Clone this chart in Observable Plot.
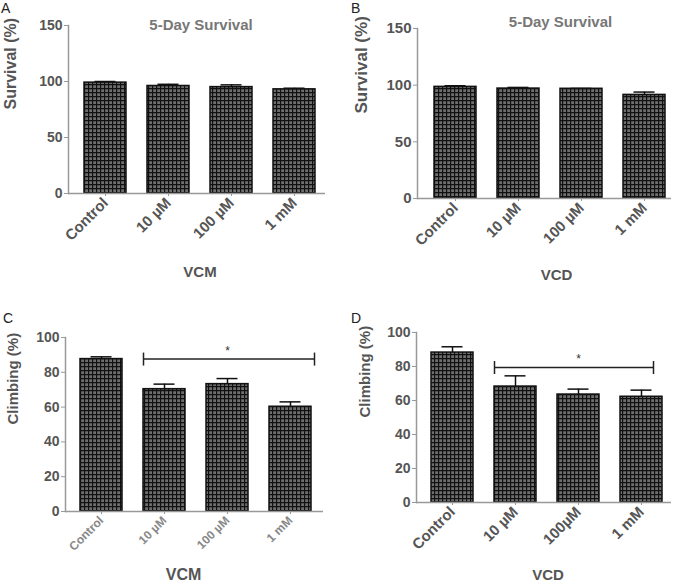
<!DOCTYPE html>
<html><head><meta charset="utf-8">
<script src="https://cdn.jsdelivr.net/npm/d3@7"></script>
<script src="https://cdn.jsdelivr.net/npm/@observablehq/plot@0.6"></script>
<style>
body{margin:0;background:#fff;}
#fig{position:relative;width:678px;height:584px;overflow:hidden;font-family:"Liberation Sans",Arial,sans-serif;}
.panel{position:absolute;}
.panel svg{overflow:visible;}
.letter{position:absolute;font-size:14px;line-height:14px;color:#222;}
</style></head><body><div id="fig"></div>
<script>
// ---- data ----
const dosesVCM = ["Control", "10 µM", "100 µM", "1 mM"];
const dosesVCD = ["Control", "10 µM", "100 µM", "1 mM"];
const dosesVCDClimb = ["Control", "10 µM", "100µM", "1 mM"];
const survivalVCM = [99, 96, 95, 93];
const survivalVCMErr = [1, 1.5, 2, 1];
const survivalVCD = [98.5, 97, 96.8, 91.4];
const survivalVCDErr = [1, 1, 0.3, 2.5];
const climbingVCM = [87.6, 70.3, 73.2, 60.2];
const climbingVCMErr = [1.3, 2.9, 3.2, 2.8];
const climbingVCD = [88.2, 68.2, 63.5, 62.2];
const climbingVCDErr = [3.4, 6.3, 3.2, 3.9];
const survivalTicks = [0, 50, 100, 150];
const climbingTicks = [0, 20, 40, 60, 80, 100];
const sigVCM = [{from: "10 µM", to: "1 mM", mid: "100 µM", y: 87.6, label: "*"}];
const sigVCD = [{from: "10 µM", to: "1 mM", mid: "100µM", y: 79.4, label: "*"}];

// ---- layout ----
const panels = [
  {id: "A", left: 0, top: 0, width: 339, height: 290, mt: 25, mb: 97, ml: 68, mr: 14, range: [83, 315],
   cats: dosesVCM, vals: survivalVCM, errs: survivalVCMErr, yMax: 150, ticks: survivalTicks,
   ylabel: "Survival (%)", xlabel: "VCM", title: "5-Day Survival", titleDx: 4,
   tickFont: 14, xFont: 15, xFill: "#555", yLabelFont: 16, yLabelDx: -58, xLabelFont: 15, xLabelDy: 79, xLabelDx: 3,
   letterX: 1, letterY: 1},
  {id: "B", left: 338, top: 0, width: 340, height: 290, mt: 28, mb: 92, ml: 79, mr: 7, range: [95, 328],
   cats: dosesVCD, vals: survivalVCD, errs: survivalVCDErr, yMax: 150, ticks: survivalTicks,
   ylabel: "Survival (%)", xlabel: "VCD", title: "5-Day Survival", titleDx: 16, titleDy: -6,
   tickFont: 15, xFont: 15, xFill: "#555", yLabelFont: 17, yLabelDx: -56, xLabelFont: 15, xLabelDy: 77, xLabelDx: 12,
   letterX: 13, letterY: 1},
  {id: "C", left: 0, top: 290, width: 339, height: 294, mt: 47, mb: 73, ml: 65, mr: 16, range: [78, 312],
   cats: dosesVCM, vals: climbingVCM, errs: climbingVCMErr, yMax: 100, ticks: climbingTicks,
   ylabel: "Climbing (%)", xlabel: "VCM", sig: sigVCM, capL: -21, capR: 24, sigInsetR: -3,
   tickFont: 14, xFont: 12, xFill: "#888", yLabelFont: 15, yLabelDx: -52, xLabelFont: 16, xLabelDy: 63, xLabelDx: -11,
   letterX: 3, letterY: 21},
  {id: "D", left: 338, top: 290, width: 340, height: 294, mt: 42, mb: 82, ml: 78, mr: 7, range: [92, 325],
   cats: dosesVCDClimb, vals: climbingVCD, errs: climbingVCDErr, yMax: 100, ticks: climbingTicks,
   ylabel: "Climbing (%)", xlabel: "VCD", sig: sigVCD, capL: -21, capR: 12, sigInsetR: 9,
   tickFont: 14, xFont: 15, xFill: "#555", yLabelFont: 15, yLabelDx: -51, xLabelFont: 15, xLabelDy: 73, xLabelDx: 4,
   letterX: 13, letterY: 21}
];

const vline = {draw(ctx, size) { const h = Math.sqrt(size / Math.PI); ctx.moveTo(0, -h); ctx.lineTo(0, h); }};
const fig = document.getElementById("fig");
const textCol = "#555";

for (const p of panels) {
  const data = p.cats.map((c, i) => ({cat: c, v: p.vals[i], e: p.errs[i]}));
  const pid = "grid" + p.id;
  const marks = [
    Plot.barY(data, {x: "cat", y: "v", fill: `url(#${pid})`, stroke: "#111", strokeWidth: 1.5}),
    Plot.ruleX(data, {x: "cat", y1: "v", y2: d => d.v + d.e, stroke: "#111", strokeWidth: 1.5}),
    Plot.tickY(data, {x: "cat", y: d => d.v + d.e, insetLeft: 10.5, insetRight: 10.5, stroke: "#111", strokeWidth: 1.5}),
    Plot.ruleY([0], {stroke: "#999", strokeWidth: 1.5}),
    Plot.frame({anchor: "left", stroke: "#999", strokeWidth: 1.5}),
    Plot.axisY({ticks: p.ticks, tickSize: 4, tickPadding: 2, fontSize: p.tickFont, fontWeight: "bold", fill: textCol, stroke: "#999", label: null}),
    Plot.axisX({tickRotate: -45, tickSize: 3, tickPadding: 4, fontSize: p.xFont, fontWeight: "bold", fill: p.xFill, stroke: "#999", label: null}),
    Plot.text([p.ylabel], {frameAnchor: "left", rotate: -90, dx: p.yLabelDx, fontSize: p.yLabelFont, fontWeight: "bold", fill: textCol, lineAnchor: "middle", text: d => d}),
    Plot.text([p.xlabel], {frameAnchor: "bottom", dy: p.xLabelDy, dx: p.xLabelDx, fontSize: p.xLabelFont, fontWeight: "bold", fill: textCol, lineAnchor: "middle", text: d => d})
  ];
  if (p.title) marks.push(Plot.text([p.title], {frameAnchor: "top", dx: p.titleDx, dy: p.titleDy || 0, fontSize: 15, fontWeight: "bold", fill: "#777", lineAnchor: "middle", text: d => d}));
  if (p.sig) {
    marks.push(
      Plot.ruleY(p.sig, {x1: "from", x2: "to", y: "y", insetRight: p.sigInsetR, stroke: "#222", strokeWidth: 1.5}),
      Plot.dot(p.sig, {x: "from", y: "y", dx: p.capL, symbol: vline, r: 6.5, stroke: "#222", strokeWidth: 1.5}),
      Plot.dot(p.sig, {x: "to", y: "y", dx: p.capR, symbol: vline, r: 6.5, stroke: "#222", strokeWidth: 1.5}),
      Plot.text(p.sig, {x: "mid", y: "y", text: "label", dy: -8, fontSize: 12, fill: "#333"})
    );
  }
  const chart = Plot.plot({
    width: p.width, height: p.height,
    marginTop: p.mt, marginBottom: p.mb, marginLeft: p.ml, marginRight: p.mr,
    x: {domain: p.cats, range: p.range, paddingInner: 0.337, paddingOuter: 0},
    y: {domain: [0, p.yMax]},
    style: {fontFamily: '"Liberation Sans", Arial, sans-serif', background: "transparent"},
    marks
  });
  d3.select(chart).insert("defs", ":first-child").html(
    `<pattern id="${pid}" patternUnits="userSpaceOnUse" width="4" height="4">
       <rect width="4" height="4" fill="#6e6e6e"/>
       <path d="M0 0.6H4M0.6 0V4" stroke="#111" stroke-width="1.2"/>
     </pattern>`);
  const div = document.createElement("div");
  div.className = "panel";
  div.style.left = p.left + "px"; div.style.top = p.top + "px";
  div.appendChild(chart);
  const letter = document.createElement("div");
  letter.className = "letter";
  letter.textContent = p.id;
  letter.style.left = p.letterX + "px"; letter.style.top = p.letterY + "px";
  div.appendChild(letter);
  fig.appendChild(div);
}
</script></body></html>
